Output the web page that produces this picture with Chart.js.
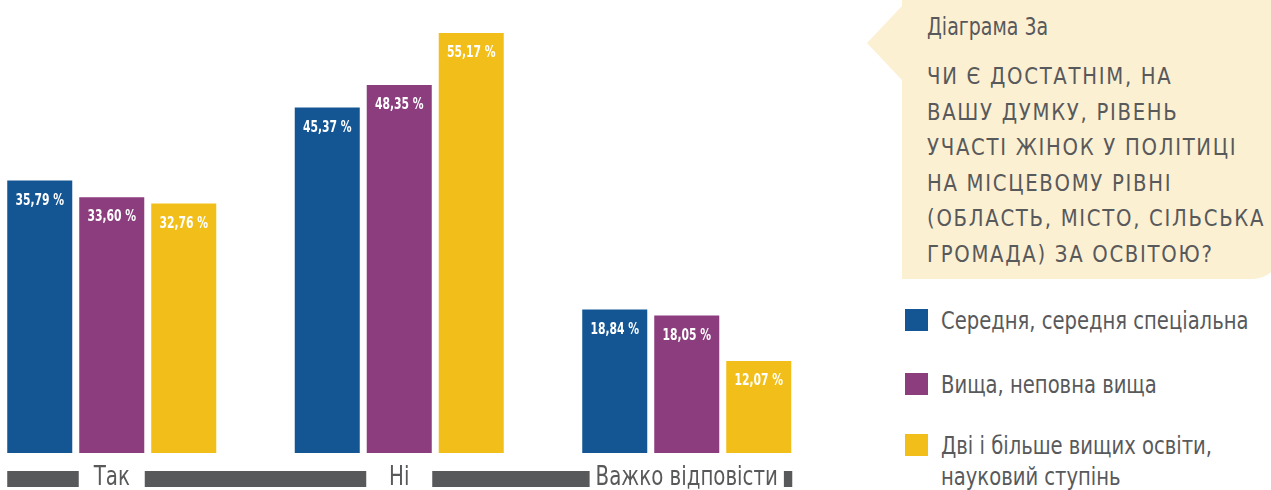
<!DOCTYPE html>
<html>
<head>
<meta charset="utf-8">
<script src="https://cdn.jsdelivr.net/npm/chart.js@4/dist/chart.umd.min.js"></script>
<style>
  body { margin: 0; width: 1271px; height: 490px; overflow: hidden; background: #fff; position: relative;
         font-family: "DejaVu Sans Condensed", sans-serif; color: #58595b; }
  #wrap { position: absolute; left: -32px; top: 0; width: 870px; height: 490px; }
  .panel { position: absolute; left: 902px; top: 0; width: 380px; height: 279px; background: #fcf0d3;
           border-bottom-right-radius: 30px; }
  .notch { position: absolute; left: 867px; top: 6px; width: 0; height: 0;
           border-top: 37px solid transparent; border-bottom: 37px solid transparent; border-right: 35px solid #fcf0d3; }
  .title { position: absolute; left: 927px; top: 13px; font-size: 24px; white-space: nowrap;
           transform: scaleX(0.88); transform-origin: left top; }
  .question { position: absolute; left: 927px; top: 59px; font-size: 23px; line-height: 35.5px; letter-spacing: 1.8px;
              white-space: nowrap; transform: scaleX(0.95); transform-origin: left top; }
  #legend { position: absolute; left: 905px; top: 309px; }
  .item { position: absolute; left: 0; white-space: nowrap; font-size: 25px; line-height: 31px; }
  .item i { position: absolute; left: 0; top: 0; width: 23px; height: 22px; }
  .item span { position: absolute; left: 36px; top: -4px; transform: scaleX(0.87); transform-origin: left top; }
</style>
</head>
<body>
<div class="notch"></div>
<div class="panel"></div>
<div class="title">Діаграма 3а</div>
<div class="question">ЧИ Є ДОСТАТНІМ, НА<br>ВАШУ ДУМКУ, РІВЕНЬ<br>УЧАСТІ ЖІНОК У ПОЛІТИЦІ<br>НА МІСЦЕВОМУ РІВНІ<br>(ОБЛАСТЬ, МІСТО, СІЛЬСЬКА<br>ГРОМАДА) ЗА ОСВІТОЮ?</div>
<div id="legend"></div>
<div id="wrap"><canvas id="chart"></canvas></div>
<script>
// categories and series
const categories = ["Так", "Ні", "Важко відповісти"];
const seriesNames = ["Середня, середня спеціальна", "Вища, неповна вища", "Дві і більше вищих освіти,\nнауковий ступінь"];
const secondary = [35.79, 45.37, 18.84];
const higher = [33.60, 48.35, 18.05];
const multiple = [32.76, 55.17, 12.07];
const colors = ["#145694", "#8b3d7e", "#f2bf1a"];
const grey = "#58595b";

const series = [secondary, higher, multiple];

// Legend in the side panel
const legend = document.getElementById("legend");
const legendTops = [0, 64, 125];
seriesNames.forEach((name, i) => {
    const item = document.createElement("div");
    item.className = "item";
    item.style.top = legendTops[i] + "px";
    item.innerHTML = '<i style="background:' + colors[i] + '"></i><span>' + name.replace("\n", "<br>") + "</span>";
    legend.appendChild(item);
});

const fontFamily = '"DejaVu Sans Condensed", sans-serif';

// draw text squeezed horizontally (the original uses a narrow face)
function narrowText(ctx, txt, x, y, sx) {
    ctx.save();
    ctx.translate(x, y);
    ctx.scale(sx, 1);
    ctx.fillText(txt, 0, 0);
    ctx.restore();
}

// White percentage labels inside the top of each bar
const barLabels = {
    id: "barLabels",
    afterDatasetsDraw(chart) {
        const ctx = chart.ctx;
        ctx.save();
        ctx.fillStyle = "#fff";
        ctx.font = "bold 16px " + fontFamily;
        ctx.textAlign = "center";
        ctx.textBaseline = "middle";
        chart.data.datasets.forEach((ds, di) => {
            chart.getDatasetMeta(di).data.forEach((bar, i) => {
                const txt = ds.data[i].toFixed(2).replace(".", ",") + " %";
                narrowText(ctx, txt, bar.x, bar.y + 20, 0.75);
            });
        });
        ctx.restore();
    }
};

// Grey baseline band with the category names cut into it
const categoryBand = {
    id: "categoryBand",
    afterDraw(chart) {
        const ctx = chart.ctx;
        const first = chart.getDatasetMeta(0).data[0];
        const lastMeta = chart.getDatasetMeta(chart.data.datasets.length - 1).data;
        const last = lastMeta[lastMeta.length - 1];
        const left = first.x - first.width / 2;
        const right = last.x + last.width / 2 + 1;
        const y = chart.chartArea.bottom + 18;
        const sx = 0.815;
        ctx.save();
        ctx.fillStyle = grey;
        ctx.fillRect(left, y, right - left, 16);
        ctx.font = "27px " + fontFamily;
        ctx.textAlign = "center";
        ctx.textBaseline = "alphabetic";
        const xScale = chart.scales.x;
        categories.forEach((c, i) => {
            const cx = xScale.getPixelForValue(i);
            const w = Math.max(ctx.measureText(c).width * sx + 12, 66);
            ctx.fillStyle = "#fff";
            ctx.fillRect(cx - w / 2, y - 1, w, 18);
            ctx.fillStyle = grey;
            narrowText(ctx, c, cx, y + 14, sx);
        });
        ctx.restore();
    }
};

new Chart(document.getElementById("chart"), {
    type: "bar",
    data: {
        labels: categories,
        datasets: series.map((values, i) => ({
            label: seriesNames[i],
            data: values,
            backgroundColor: colors[i],
            categoryPercentage: 0.7513,
            barPercentage: 0.903
        }))
    },
    options: {
        responsive: true,
        maintainAspectRatio: false,
        animation: false,
        events: [],
        layout: { padding: { left: 0, right: 7.5, top: 0, bottom: 37 } },
        plugins: { legend: { display: false }, tooltip: { enabled: false } },
        scales: {
            x: { display: false },
            y: { display: false, min: 0, max: 59.5 }
        }
    },
    plugins: [barLabels, categoryBand]
});
</script>
</body>
</html>
